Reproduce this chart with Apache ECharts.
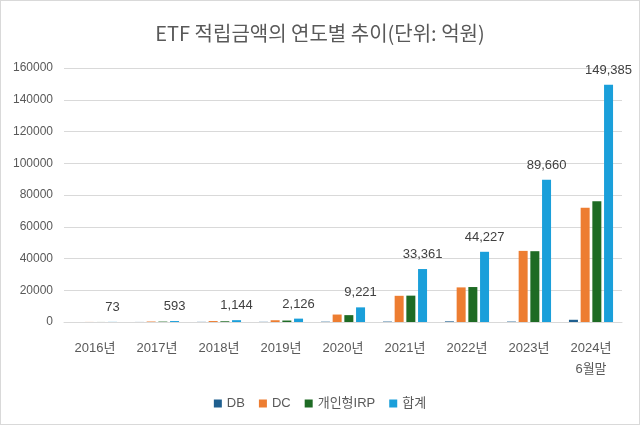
<!DOCTYPE html>
<html><head><meta charset="utf-8">
<script src="https://cdn.jsdelivr.net/npm/echarts@6/dist/echarts.min.js"></script>
<style>
html,body{margin:0;padding:0;background:#fff;}
#c{width:640px;height:425px;box-sizing:border-box;border:1px solid #d9d9d9;}
</style></head><body>
<div id="c"></div>
<script>
const categories = ['2016년','2017년','2018년','2019년','2020년','2021년','2022년','2023년','2024년\n6월말'];
const seriesNames = ['DB','DC','개인형IRP','합계'];
const dbValues  = [8, 40, 90, 110, 200, 260, 400, 260, 1400];
const dcValues  = [40, 300, 600, 1100, 4700, 16500, 21800, 44800, 72000];
const irpValues = [25, 253, 454, 916, 4321, 16601, 22027, 44600, 75985];
const totalValues = [73, 593, 1144, 2126, 9221, 33361, 44227, 89660, 149385];
const yTicks = [0, 20000, 40000, 60000, 80000, 100000, 120000, 140000, 160000];
const colors = ['#1f5f8f', '#ed7d31', '#1e6b24', '#1a9fda'];

const chart = echarts.init(document.getElementById('c'));
const font = "'Liberation Sans', 'Noto Sans CJK KR', sans-serif";
function mk(name, data, color, withLabel) {
  return {
    name: name, type: 'bar', data: data, barWidth: 9, barGap: '30%',
    itemStyle: {color: color},
    label: withLabel ? {
      show: true, position: 'top', distance: 8, color: '#404040',
      fontSize: 13, fontFamily: font,
      formatter: p => p.value.toLocaleString('en-US')
    } : {show: false}
  };
}
chart.setOption({
  animation: false,
  title: {
    text: 'ETF 적립금액의 연도별 추이(단위: 억원)', left: 'center', top: 17,
    textStyle: {fontSize: 20, fontWeight: 'normal', color: '#595959', fontFamily: "'Noto Sans CJK KR', sans-serif"}
  },
  legend: {
    bottom: 9, left: 'center', itemWidth: 8, itemHeight: 8, itemGap: 14, icon: 'rect',
    textStyle: {fontSize: 13, color: '#595959', fontFamily: font},
    data: seriesNames
  },
  grid: {left: 63, right: 17, top: 67, bottom: 102},
  xAxis: {
    type: 'category', data: categories,
    axisLine: {lineStyle: {color: '#d9d9d9'}}, axisTick: {show: false},
    axisLabel: {color: '#595959', fontSize: 13, fontFamily: font, margin: 16, lineHeight: 21, interval: 0}
  },
  yAxis: {
    type: 'value', min: yTicks[0], max: yTicks[yTicks.length-1], interval: 20000,
    axisLine: {show: false}, axisTick: {show: false},
    splitLine: {lineStyle: {color: '#d9d9d9'}},
    axisLabel: {color: '#595959', fontSize: 12, fontFamily: font, margin: 11, formatter: v => String(v)}
  },
  series: [
    mk(seriesNames[0], dbValues, colors[0], false),
    mk(seriesNames[1], dcValues, colors[1], false),
    mk(seriesNames[2], irpValues, colors[2], false),
    mk(seriesNames[3], totalValues, colors[3], true)
  ]
});
</script></body></html>
